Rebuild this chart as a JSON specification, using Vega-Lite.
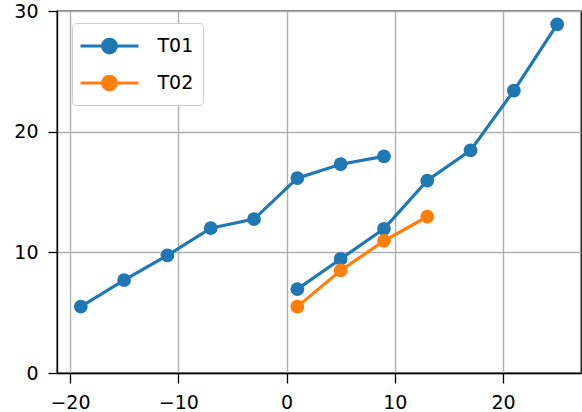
{
  "$schema": "https://vega.github.io/schema/vega-lite/v6.json",
  "width": 524,
  "height": 362,
  "autosize": "none",
  "padding": {"left": 57, "top": 11, "right": 1, "bottom": 39},
  "background": "white",
  "config": {
    "view": {"stroke": "black", "strokeWidth": 1.3},
    "font": "DejaVu Sans",
    "axis": {
      "domainColor": "black",
      "domainWidth": 1.3,
      "tickColor": "black",
      "tickWidth": 1.3,
      "tickSize": 9,
      "gridColor": "#b0b0b0",
      "gridWidth": 1.4,
      "labelFont": "DejaVu Sans",
      "labelFontSize": 19,
      "labelColor": "black",
      "title": null
    }
  },
  "data": {
    "values": [
      {"series": "T01", "seg": "a", "x": -19, "y": 5.5},
      {"series": "T01", "seg": "a", "x": -15, "y": 7.7},
      {"series": "T01", "seg": "a", "x": -11, "y": 9.75},
      {"series": "T01", "seg": "a", "x": -7, "y": 12},
      {"series": "T01", "seg": "a", "x": -3, "y": 12.75},
      {"series": "T01", "seg": "a", "x": 1, "y": 16.15},
      {"series": "T01", "seg": "a", "x": 5, "y": 17.3},
      {"series": "T01", "seg": "a", "x": 9, "y": 17.95},
      {"series": "T01", "seg": "b", "x": 1, "y": 6.95},
      {"series": "T01", "seg": "b", "x": 5, "y": 9.45},
      {"series": "T01", "seg": "b", "x": 9, "y": 11.95},
      {"series": "T01", "seg": "b", "x": 13, "y": 15.95},
      {"series": "T01", "seg": "b", "x": 17, "y": 18.45},
      {"series": "T01", "seg": "b", "x": 21, "y": 23.4},
      {"series": "T01", "seg": "b", "x": 25, "y": 28.9},
      {"series": "T02", "seg": "c", "x": 1, "y": 5.5},
      {"series": "T02", "seg": "c", "x": 5, "y": 8.5},
      {"series": "T02", "seg": "c", "x": 9, "y": 10.95},
      {"series": "T02", "seg": "c", "x": 13, "y": 12.95}
    ]
  },
  "encoding": {
    "x": {
      "field": "x",
      "type": "quantitative",
      "scale": {"domain": [-21.2, 27.2], "nice": false, "zero": false},
      "axis": {"values": [-20, -10, 0, 10, 20], "tickSize": 10, "labelPadding": 10}
    },
    "y": {
      "field": "y",
      "type": "quantitative",
      "scale": {"domain": [0, 30], "nice": false},
      "axis": {"values": [0, 10, 20, 30], "labelPadding": 10}
    },
    "color": {
      "field": "series",
      "type": "nominal",
      "scale": {"domain": ["T01", "T02"], "range": ["#1f77b4", "#ff7f0e"]},
      "legend": {
        "title": null,
        "orient": "none",
        "legendX": 15,
        "legendY": 12,
        "padding": 9,
        "fillColor": "white",
        "strokeColor": "#cccccc",
        "cornerRadius": 4,
        "labelFont": "DejaVu Sans",
        "labelFontSize": 19,
        "labelColor": "black",
        "symbolSize": 625,
        "symbolType": "M-2.32,0H2.32M-0.55,0A0.55,0.55 0 1,0 0.55,0A0.55,0.55 0 1,0 -0.55,0Z",
        "symbolStrokeWidth": 3,
        "symbolOpacity": 1,
        "symbolOffset": 14.5,
        "labelOffset": 34,
        "rowPadding": 10,
        "encode": {
          "symbols": {
            "update": {
              "fill": {"signal": "scale('color', datum.value)"},
              "stroke": {"signal": "scale('color', datum.value)"},
              "strokeWidth": {"signal": "3"}
            }
          }
        }
      }
    }
  },
  "layer": [
    {
      "mark": {"type": "line", "strokeWidth": 3.2},
      "encoding": {"detail": {"field": "seg"}}
    },
    {
      "mark": {"type": "point", "filled": true, "size": 190, "opacity": 1}
    }
  ]
}
